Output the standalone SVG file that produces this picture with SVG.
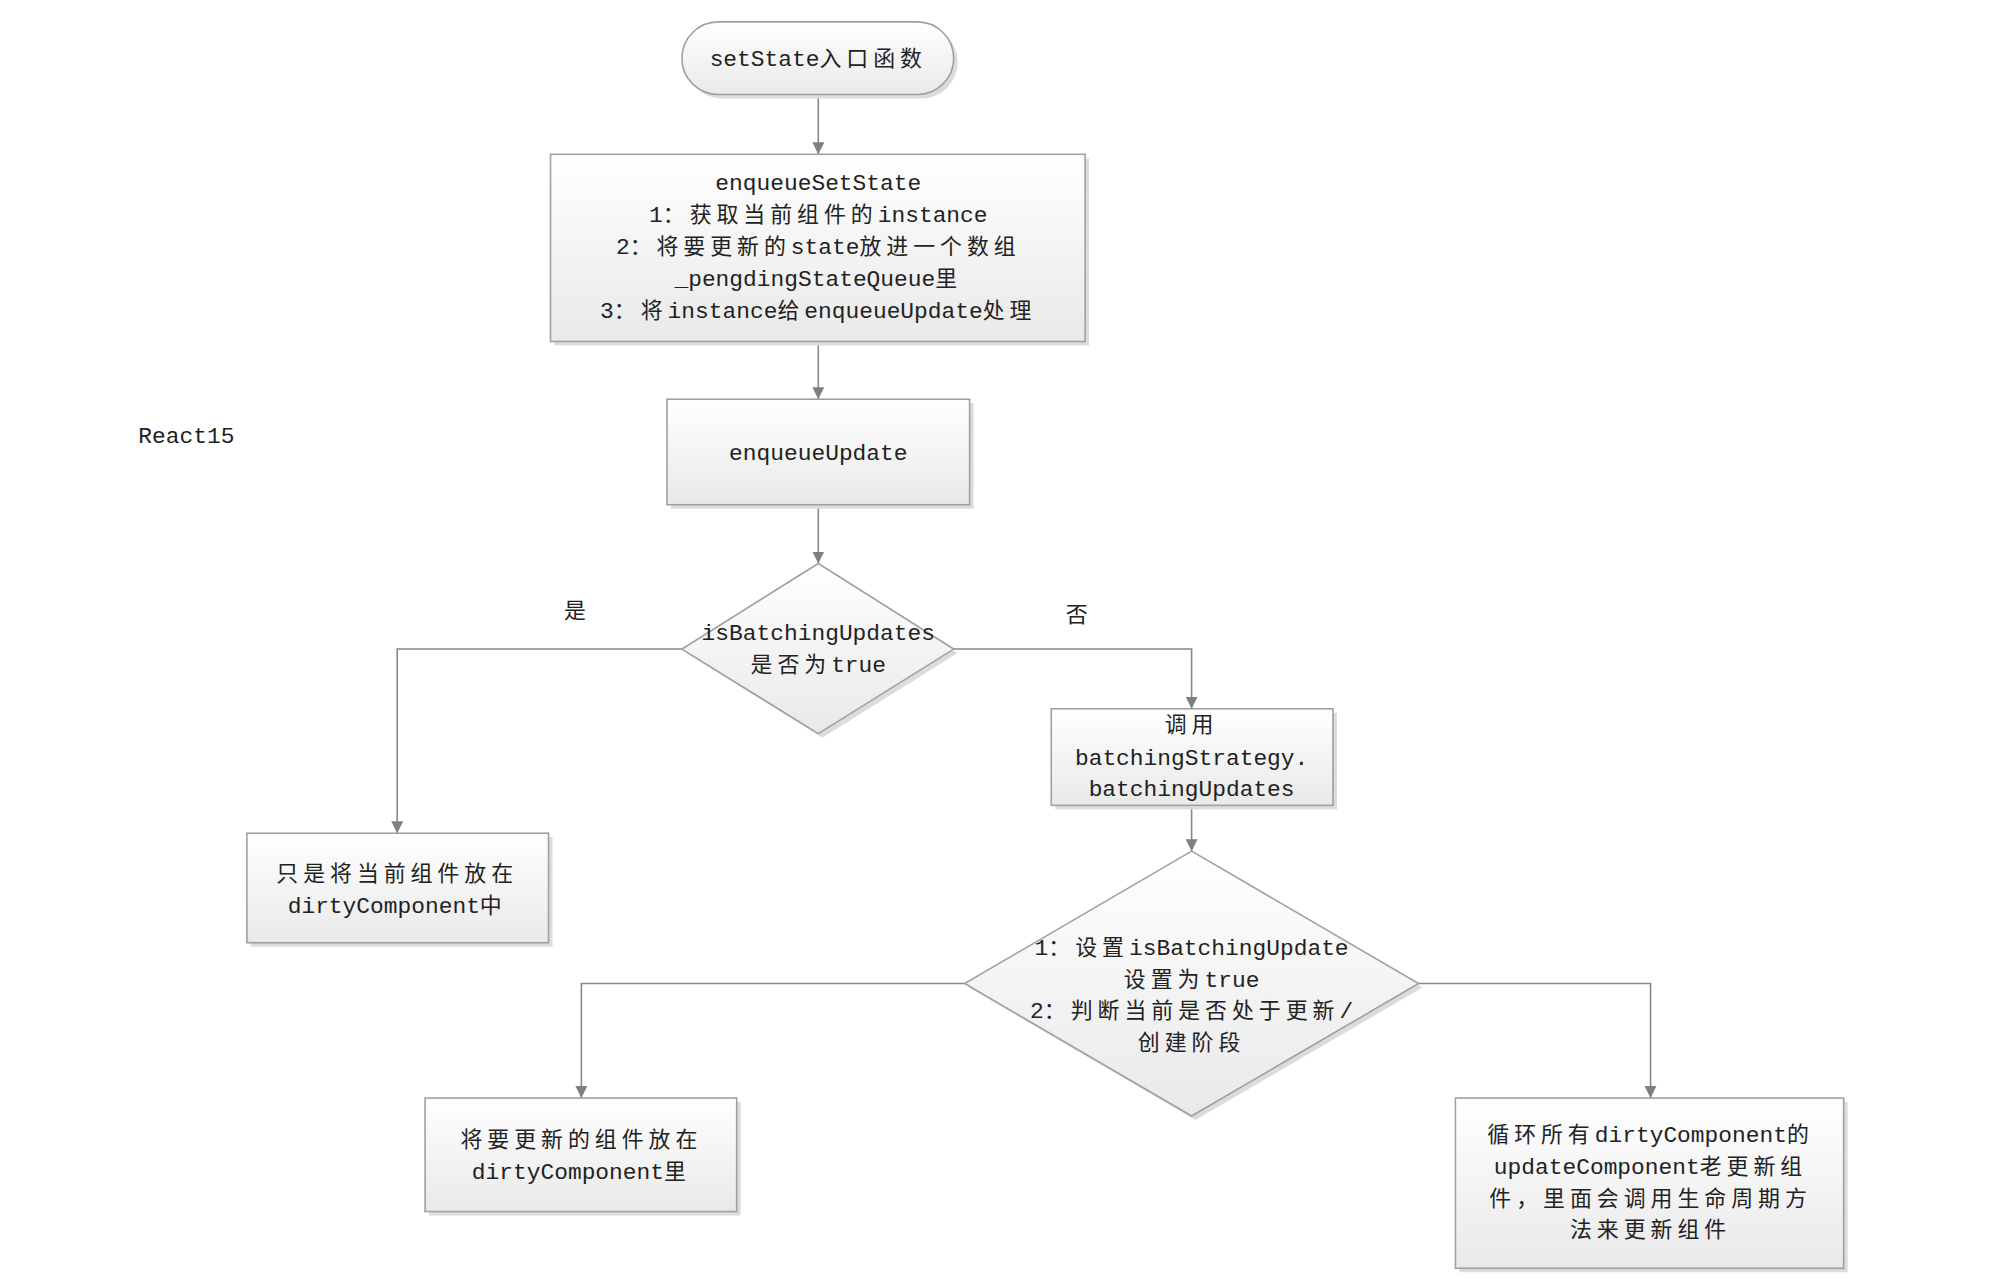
<svg xmlns="http://www.w3.org/2000/svg" width="1994" height="1280" viewBox="0 0 1994 1280">
<defs>
<linearGradient id="g" x1="0" y1="0" x2="0" y2="1">
<stop offset="0" stop-color="#ffffff"/>
<stop offset="1" stop-color="#e9e9e9"/>
</linearGradient>
<marker id="arr" viewBox="0 0 10 10" refX="10" refY="5" markerWidth="12" markerHeight="12" markerUnits="userSpaceOnUse" orient="auto">
<path d="M0,0 L10,5 L0,10 z" fill="#7f7f7f"/>
</marker>
<style>
.n{fill:url(#g);stroke:#a0a0a0;stroke-width:1.6}
.sh{fill:#dcdcdc}
.t{font-family:"Liberation Mono","Noto Sans CJK SC",monospace;font-size:23px;fill:#222;text-anchor:middle}
.l{text-anchor:start}
.c{font-family:"Noto Sans CJK SC",sans-serif;font-size:22px;letter-spacing:5px}
.e{fill:none;stroke:#888;stroke-width:1.6;marker-end:url(#arr)}
</style>
</defs>
<rect width="1994" height="1280" fill="#ffffff"/>
<g transform="scale(0.9955)">
<g id="connectors">
<path class="e" d="M822,95 L822,155"/>
<path class="e" d="M822,343 L822,401"/>
<path class="e" d="M822,507 L822,566"/>
<path class="e" d="M685,652 L399,652 L399,837"/>
<path class="e" d="M958,652 L1197,652 L1197,712"/>
<path class="e" d="M1197,809 L1197,855"/>
<path class="e" d="M969,988 L584,988 L584,1103"/>
<path class="e" d="M1425,988 L1658,988 L1658,1103"/>
</g>
<g id="start">
<rect class="sh" x="689" y="26" width="273" height="73" rx="36.5"/>
<rect class="n" x="685" y="22" width="273" height="73" rx="36.5"/>
<text class="t" x="822" y="66">setState<tspan class="c">入口函数</tspan></text>
</g>
<g id="enqueueSetState">
<rect class="sh" x="557" y="159" width="537" height="188"/>
<rect class="n" x="553" y="155" width="537" height="188"/>
<text class="t" x="822" y="191">enqueueSetState</text>
<text class="t" x="822" y="223">1<tspan class="c">：获取当前组件的</tspan>instance</text>
<text class="t" x="822" y="255">2<tspan class="c">：将要更新的</tspan>state<tspan class="c">放进一个数组</tspan></text>
<text class="t" x="822" y="287">_pengdingStateQueue<tspan class="c">里</tspan></text>
<text class="t" x="822" y="319">3<tspan class="c">：将</tspan>instance<tspan class="c">给</tspan>enqueueUpdate<tspan class="c">处理</tspan></text>
</g>
<g id="enqueueUpdate">
<rect class="sh" x="674" y="405" width="304" height="106"/>
<rect class="n" x="670" y="401" width="304" height="106"/>
<text class="t" x="822" y="462">enqueueUpdate</text>
</g>
<g id="react15">
<text class="t l" x="139" y="445">React15</text>
</g>
<g id="isBatching">
<polygon class="sh" points="826,570 962,656 826,741 689,656"/>
<polygon class="n" points="822,566 958,652 822,737 685,652"/>
<text class="t" x="822" y="643">isBatchingUpdates</text>
<text class="t" x="822" y="675"><tspan class="c">是否为</tspan>true</text>
</g>
<g id="label-yes">
<text class="t c" x="580" y="621">是</text>
</g>
<g id="label-no">
<text class="t c" x="1084" y="625">否</text>
</g>
<g id="dirty1">
<rect class="sh" x="252" y="841" width="303" height="110"/>
<rect class="n" x="248" y="837" width="303" height="110"/>
<text class="t" x="399" y="885"><tspan class="c">只是将当前组件放在</tspan></text>
<text class="t" x="399" y="917">dirtyComponent<tspan class="c">中</tspan></text>
</g>
<g id="batchingStrategy">
<rect class="sh" x="1060" y="716" width="283" height="97"/>
<rect class="n" x="1056" y="712" width="283" height="97"/>
<text class="t" x="1197" y="735"><tspan class="c">调用</tspan></text>
<text class="t" x="1197" y="768">batchingStrategy.</text>
<text class="t" x="1197" y="800">batchingUpdates</text>
</g>
<g id="setBatching">
<polygon class="sh" points="1201,859 1429,992 1201,1125 973,992"/>
<polygon class="n" points="1197,855 1425,988 1197,1121 969,988"/>
<text class="t" x="1197" y="959">1<tspan class="c">：设置</tspan>isBatchingUpdate</text>
<text class="t" x="1197" y="991"><tspan class="c">设置为</tspan>true</text>
<text class="t" x="1197" y="1023">2<tspan class="c">：判断当前是否处于更新</tspan>/</text>
<text class="t" x="1197" y="1055"><tspan class="c">创建阶段</tspan></text>
</g>
<g id="dirty2">
<rect class="sh" x="431" y="1107" width="313" height="114"/>
<rect class="n" x="427" y="1103" width="313" height="114"/>
<text class="t" x="584" y="1152"><tspan class="c">将要更新的组件放在</tspan></text>
<text class="t" x="584" y="1184">dirtyComponent<tspan class="c">里</tspan></text>
</g>
<g id="loop">
<rect class="sh" x="1466" y="1107" width="390" height="171"/>
<rect class="n" x="1462" y="1103" width="390" height="171"/>
<text class="t" x="1658" y="1147"><tspan class="c">循环所有</tspan>dirtyComponent<tspan class="c">的</tspan></text>
<text class="t" x="1658" y="1179">updateComponent<tspan class="c">老更新组</tspan></text>
<text class="t" x="1658" y="1211"><tspan class="c">件，里面会调用生命周期方</tspan></text>
<text class="t" x="1658" y="1243"><tspan class="c">法来更新组件</tspan></text>
</g>
</g>
</svg>
